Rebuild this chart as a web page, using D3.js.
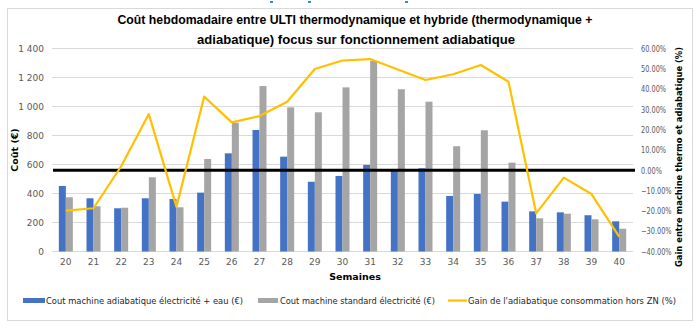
<!DOCTYPE html>
<html><head><meta charset="utf-8">
<script src="https://cdn.jsdelivr.net/npm/d3@7/dist/d3.min.js"></script>
<style>
html,body{margin:0;padding:0;background:#fff;}
text{font-family:"DejaVu Sans",sans-serif;}
</style></head>
<body><svg id="c" width="700" height="329"></svg>
<script>
const weeks = ["20","21","22","23","24","25","26","27","28","29","30","31","32","33","34","35","36","37","38","39","40"];
const adiabCost = [452,367,298,367,362,406,677,838,654,481,521,597,565,574,383,397,344,277,270,250,208];
const standardCost = [374,312,302,512,305,638,888,1141,994,960,1132,1316,1119,1033,726,836,613,229,261,222,157];
const gainPct = [-19.9,-18.7,2,27.7,-18,36.3,23.6,26.7,33.8,49.9,54.1,54.8,49.7,44.5,47.3,51.9,43.6,-21.2,-3.6,-11.7,-32.7];
const leftTicks = [0,200,400,600,800,1000,1200,1400];
const rightTicks = [-40,-30,-20,-10,0,10,20,30,40,50,60];
const seriesNames = ["Cout machine adiabatique électricité + eau (€)","Cout machine standard électricité (€)","Gain de l'adiabatique consommation hors ZN (%)"];
const colors = ["#4472C4","#A5A5A5","#FFC000"];

const svg = d3.select("#c");
const L=52,R=633,T=48.5,B=251.5;

// frame
svg.append("rect").attr("x",7.5).attr("y",8.5).attr("width",685).attr("height",312)
  .attr("fill","#fff").attr("stroke","#D9D9D9").attr("stroke-width",1);
// small top marks
[[270,1],[308,1],[405,1]].forEach(p=>svg.append("rect").attr("x",p[0]).attr("y",p[1]).attr("width",3).attr("height",2).attr("fill","#3A8FA8"));

const x = d3.scaleBand().domain(weeks).range([L,R]).paddingInner(0).paddingOuter(0);
const yL = d3.scaleLinear().domain([0,1400]).range([B,T]);
const yR = d3.scaleLinear().domain([-40,60]).range([B,T]);

// gridlines
svg.append("g").selectAll("line").data(leftTicks).join("line")
  .attr("x1",L).attr("x2",R).attr("y1",d=>yL(d)).attr("y2",d=>yL(d))
  .attr("stroke","#D9D9D9").attr("stroke-width",1);

// bars
const bw = 7;
const g = svg.append("g");
g.selectAll("rect.a").data(weeks).join("rect").attr("class","a")
  .attr("x",(d)=>x(d)+x.bandwidth()/2-bw).attr("width",bw)
  .attr("y",(d,i)=>yL(adiabCost[i])).attr("height",(d,i)=>yL(0)-yL(adiabCost[i]))
  .attr("fill",colors[0]);
g.selectAll("rect.s").data(weeks).join("rect").attr("class","s")
  .attr("x",(d)=>x(d)+x.bandwidth()/2).attr("width",bw)
  .attr("y",(d,i)=>yL(standardCost[i])).attr("height",(d,i)=>yL(0)-yL(standardCost[i]))
  .attr("fill",colors[1]);

// zero line
svg.append("line").attr("x1",L+1).attr("x2",R+2).attr("y1",yR(0)).attr("y2",yR(0))
  .attr("stroke","#000").attr("stroke-width",3);

// gain line
const line = d3.line().x((d,i)=>x(weeks[i])+x.bandwidth()/2).y(d=>yR(d));
svg.append("path").datum(gainPct).attr("d",line).attr("fill","none")
  .attr("stroke",colors[2]).attr("stroke-width",2.2).attr("stroke-linejoin","round");

// axes
const fmtL = v => d3.format(",")(v).replace(/,/g," ");
const axL = d3.axisLeft(yL).tickValues(leftTicks).tickSize(0).tickPadding(8).tickFormat(fmtL);
const gl = svg.append("g").attr("transform",`translate(${L},0)`).call(axL);
gl.select(".domain").remove();
gl.selectAll("text").attr("font-size",9).attr("fill","#595959");

const axR = d3.axisRight(yR).tickValues(rightTicks).tickSize(0).tickPadding(8).tickFormat(v=>d3.format(".2f")(v)+"%");
const gr = svg.append("g").attr("transform",`translate(${R},0)`).call(axR);
gr.select(".domain").remove();
gr.selectAll("text").attr("font-size",8.5).attr("fill","#595959").style("font-family","'DejaVu Sans Condensed','DejaVu Sans',sans-serif")
  .each(function(){ const len=this.getComputedTextLength(); d3.select(this).attr("textLength",len*0.86).attr("lengthAdjust","spacingAndGlyphs"); });

const axB = d3.axisBottom(x).tickSize(0).tickPadding(7);
const gb = svg.append("g").attr("transform",`translate(0,${B})`).call(axB);
gb.select(".domain").remove();
gb.selectAll("text").attr("font-size",9).attr("fill","#595959");

// titles
const tfont = "'Liberation Sans',Arial,sans-serif";
svg.append("text").attr("x",355).attr("y",24).attr("text-anchor","middle").attr("font-size",13).attr("font-weight","bold")
  .style("font-family",tfont).attr("fill","#000").attr("textLength",475).attr("lengthAdjust","spacingAndGlyphs")
  .text("Coût hebdomadaire entre ULTI thermodynamique et hybride (thermodynamique +");
svg.append("text").attr("x",356).attr("y",44).attr("text-anchor","middle").attr("font-size",13).attr("font-weight","bold")
  .style("font-family",tfont).attr("fill","#000").attr("textLength",318).attr("lengthAdjust","spacingAndGlyphs")
  .text("adiabatique) focus sur fonctionnement adiabatique");

svg.append("text").attr("transform","translate(18,150) rotate(-90)").attr("text-anchor","middle")
  .attr("font-size",9.5).attr("font-weight","bold").text("Coût (€)");
svg.append("text").attr("transform","translate(682,157) rotate(-90)").attr("text-anchor","middle")
  .attr("font-size",9.5).attr("font-weight","bold").attr("textLength",220).attr("lengthAdjust","spacingAndGlyphs")
  .text("Gain entre machine thermo et adiabatique (%)");
svg.append("text").attr("x",355).attr("y",280).attr("text-anchor","middle")
  .attr("font-size",9.5).attr("font-weight","bold").text("Semaines");

// legend
const lg = svg.append("g");
const legendItems = [
  {sx:23, sw:22, tx:46, tw:197, type:"rect"},
  {sx:258, sw:20, tx:280, tw:155, type:"rect"},
  {sx:448, sw:19, tx:468, tw:208, type:"line"}
];
legendItems.forEach((it,i)=>{
  if(it.type==="rect") lg.append("rect").attr("x",it.sx).attr("y",298).attr("width",it.sw).attr("height",5).attr("fill",colors[i]);
  else lg.append("line").attr("x1",it.sx).attr("x2",it.sx+it.sw).attr("y1",300.5).attr("y2",300.5).attr("stroke",colors[i]).attr("stroke-width",2.2);
  lg.append("text").attr("x",it.tx).attr("y",304).attr("font-size",9).attr("fill","#262626")
    .attr("textLength",it.tw).attr("lengthAdjust","spacingAndGlyphs").text(seriesNames[i]);
});
</script></body></html>
